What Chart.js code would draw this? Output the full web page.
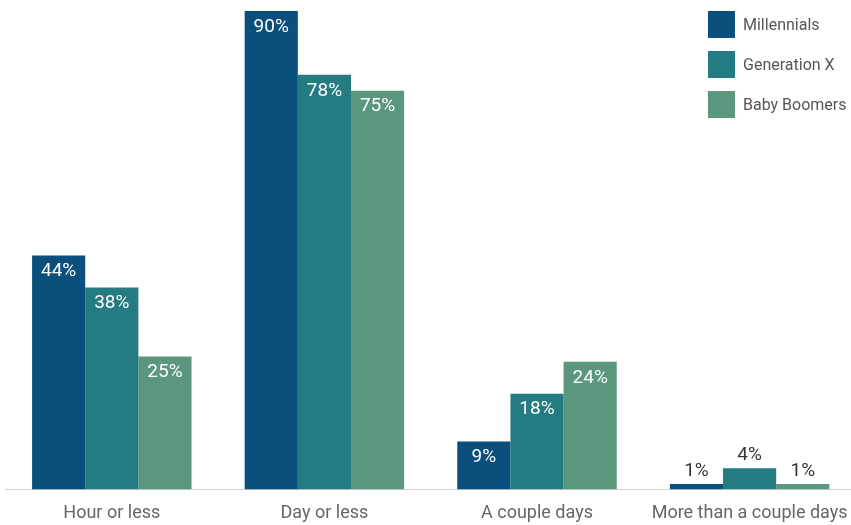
<!DOCTYPE html>
<html>
<head>
<meta charset="utf-8">
<script src="https://cdn.jsdelivr.net/npm/chart.js@4"></script>
<style>
    html, body { margin: 0; padding: 0; background: #fff; overflow: hidden; }
    #wrap { position: relative; width: 851px; height: 525px; overflow: hidden; }
    #chart { display: block; }
    #legend { position: absolute; left: 708px; top: 11px; font-family: Roboto, sans-serif; font-size: 16px; color: #555; }
    .leg-item { display: flex; align-items: center; height: 27px; margin-bottom: 13px; }
    .leg-box { width: 27px; height: 27px; margin-right: 8px; }
</style>
</head>
<body>
<div id="wrap">
    <canvas id="chart" width="861" height="540"></canvas>
    <div id="legend"></div>
</div>
<script>
// ===== DATA =====
const categories = ['Hour or less', 'Day or less', 'A couple days', 'More than a couple days'];
const seriesNames = ['Millennials', 'Generation X', 'Baby Boomers'];
const millennials = [44, 90, 9, 1];
const generationX = [38, 78, 18, 4];
const babyBoomers = [25, 75, 24, 1];
const seriesColors = ['#0b4f7d', '#247b82', '#5b977d'];

// ===== VALUE LABELS (inside bar top, or above for tiny bars) =====
const valueLabels = {
    id: 'valueLabels',
    afterDatasetsDraw(chart) {
        const ctx = chart.ctx;
        ctx.save();
        ctx.font = '19px Roboto, sans-serif';
        ctx.textAlign = 'center';
        ctx.textBaseline = 'middle';
        chart.data.datasets.forEach((ds, i) => {
            const meta = chart.getDatasetMeta(i);
            meta.data.forEach((bar, j) => {
                const v = ds.data[j];
                if (v >= 5) {
                    ctx.fillStyle = '#ffffff';
                    ctx.fillText(v + '%', bar.x, bar.y + 16);
                } else {
                    ctx.fillStyle = '#333333';
                    ctx.fillText(v + '%', bar.x, bar.y - 13);
                }
            });
        });
        ctx.restore();
    }
};

const ctx = document.getElementById('chart');
const chart = new Chart(ctx.getContext('2d'), {
    type: 'bar',
    data: {
        labels: categories,
        datasets: [
            { label: seriesNames[0], data: millennials, backgroundColor: seriesColors[0] },
            { label: seriesNames[1], data: generationX, backgroundColor: seriesColors[1] },
            { label: seriesNames[2], data: babyBoomers, backgroundColor: seriesColors[2] }
        ]
    },
    options: {
        responsive: false,
        animation: false,
        datasets: {
            bar: { barPercentage: 1.0, categoryPercentage: 0.75 }
        },
        layout: { padding: { left: 5.5, right: 3.5, top: 11, bottom: 3 } },
        plugins: {
            legend: { display: false },
            tooltip: { enabled: false }
        },
        scales: {
            x: {
                grid: { display: false, drawTicks: false },
                border: { display: true, color: '#d0d0d0', width: 1 },
                ticks: {
                    color: '#666666',
                    padding: 13,
                    maxRotation: 0,
                    autoSkip: false,
                    font: { family: 'Roboto', size: 18 }
                }
            },
            y: {
                display: false,
                min: 0,
                max: 90
            }
        }
    },
    plugins: [valueLabels]
});

// ===== LEGEND =====
const legendEl = document.getElementById('legend');
seriesNames.forEach((name, i) => {
    const item = document.createElement('div');
    item.className = 'leg-item';
    item.innerHTML = `<div class="leg-box" style="background:${seriesColors[i]}"></div><span>${name}</span>`;
    legendEl.appendChild(item);
});
</script>
</body>
</html>
